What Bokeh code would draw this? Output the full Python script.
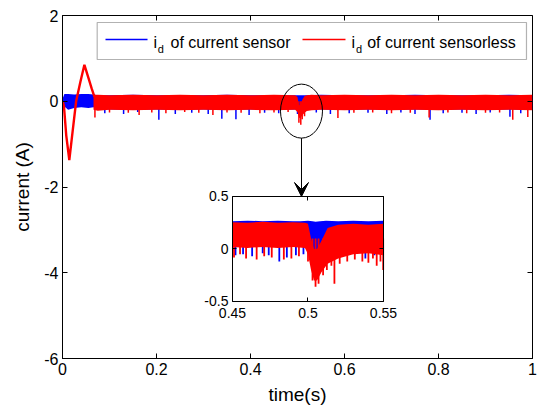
from bokeh.plotting import figure
from bokeh.models import (Range1d, LinearAxis, FixedTicker, BoxAnnotation, Label,
                          Arrow, VeeHead)
from bokeh.embed import file_html
from bokeh.resources import INLINE

# ---------------- data ----------------
# main axes ticks
x_ticks = [0, 0.2, 0.4, 0.6, 0.8, 1]
x_tick_labels = ["0", "0.2", "0.4", "0.6", "0.8", "1"]
y_ticks = [-6, -4, -2, 0, 2]
y_tick_labels = ["-6", "-4", "-2", "0", "2"]

# blue (current sensor) band, main view
t_blue = [0.0, 0.004, 0.012, 0.025, 0.04, 0.055, 0.066, 0.075, 0.1, 0.15, 0.2, 0.25, 0.3,
          0.35, 0.4, 0.45, 0.495, 0.5, 0.503, 0.506, 0.51, 0.515, 0.52, 0.55, 0.6, 0.65,
          0.7, 0.75, 0.8, 0.85, 0.9, 0.95, 1.0]
blue_hi = [0.05, 0.17, 0.17, 0.16, 0.17, 0.17, 0.16, 0.14, 0.14, 0.15, 0.14, 0.14,
           0.14, 0.15, 0.14, 0.14, 0.14, 0.14, 0.14, 0.14, 0.14, 0.14, 0.14, 0.15,
           0.14, 0.14, 0.14, 0.15, 0.14, 0.14, 0.14, 0.15, 0.14]
blue_lo = [-0.05, -0.12, -0.2, -0.16, -0.14, -0.16, -0.14, -0.2, -0.19, -0.2, -0.19, -0.2,
           -0.19, -0.2, -0.19, -0.2, -0.19, -0.2, -0.25, -0.2, -0.2, -0.19, -0.2, -0.19,
           -0.2, -0.19, -0.2, -0.19, -0.2, -0.19, -0.2, -0.19, -0.2]

# red (sensorless) start-up transient
t_red_tr = [0.0, 0.003, 0.008, 0.0145, 0.02, 0.029, 0.038, 0.0466, 0.055, 0.062, 0.068]
red_tr = [0.0, -0.1, -0.8, -1.37, -0.85, 0.0, 0.45, 0.85, 0.55, 0.3, 0.1]

# red band, main view
t_red = [0.066, 0.075, 0.1, 0.15, 0.2, 0.25, 0.3, 0.35, 0.4, 0.45, 0.495, 0.5, 0.503,
         0.506, 0.51, 0.515, 0.52, 0.53, 0.55, 0.6, 0.65, 0.7, 0.75, 0.8, 0.85, 0.9, 0.95, 1.0]
red_hi = [0.15, 0.15, 0.14, 0.15, 0.14, 0.15, 0.14, 0.15, 0.14, 0.15, 0.14, 0.1, -0.1,
          -0.08, 0.03, 0.12, 0.14, 0.15, 0.14, 0.15, 0.14, 0.15, 0.14, 0.15, 0.14, 0.15,
          0.14, 0.15]
red_lo = [-0.2, -0.22, -0.2, -0.21, -0.2, -0.21, -0.2, -0.21, -0.2, -0.21, -0.2, -0.25,
          -0.38, -0.4, -0.33, -0.27, -0.23, -0.21, -0.2, -0.21, -0.2, -0.21, -0.2, -0.21,
          -0.2, -0.21, -0.2, -0.21]

# downward spikes, main view
blue_spike_t = [0.09, 0.13, 0.16, 0.205, 0.24, 0.275, 0.31, 0.339, 0.369, 0.397, 0.43,
                0.46, 0.5, 0.54, 0.57, 0.61, 0.65, 0.69, 0.72, 0.75, 0.782, 0.81, 0.85,
                0.88, 0.91, 0.952, 0.975]
blue_spike_v = [-0.28, -0.3, -0.25, -0.43, -0.3, -0.27, -0.3, -0.41, -0.42, -0.32, -0.27,
                -0.28, -0.3, -0.26, -0.3, -0.28, -0.27, -0.3, -0.26, -0.3, -0.43, -0.28,
                -0.27, -0.3, -0.26, -0.36, -0.28]
red_spike_t = [0.069, 0.1, 0.14, 0.163, 0.19, 0.22, 0.26, 0.29, 0.32, 0.35, 0.38, 0.42,
               0.45, 0.48, 0.503, 0.507, 0.51, 0.515, 0.586, 0.62, 0.66, 0.7, 0.74, 0.78,
               0.82, 0.86, 0.9, 0.93, 0.958, 0.99]
red_spike_v = [-0.38, -0.26, -0.27, -0.32, -0.26, -0.28, -0.25, -0.27, -0.32, -0.26, -0.27,
               -0.28, -0.26, -0.25, -0.5, -0.55, -0.42, -0.35, -0.39, -0.27, -0.26, -0.28,
               -0.27, -0.38, -0.26, -0.28, -0.27, -0.26, -0.43, -0.37]

# inset (0.45 s .. 0.55 s)
inset_x_ticks = [0.45, 0.5, 0.55]
inset_x_tick_labels = ["0.45", "0.5", "0.55"]
inset_y_ticks = [-0.5, 0, 0.5]
inset_y_tick_labels = ["-0.5", "0", "0.5"]

in_t_blue = [0.45, 0.46, 0.47, 0.48, 0.49, 0.495, 0.5, 0.503, 0.505, 0.508, 0.512, 0.52,
             0.53, 0.54, 0.55]
in_blue_hi = [0.265, 0.27, 0.265, 0.27, 0.265, 0.265, 0.27, 0.265, 0.26, 0.265, 0.27,
              0.265, 0.27, 0.265, 0.27]
in_blue_lo = [0.03, 0.03, 0.02, 0.03, 0.03, 0.03, 0.02, 0.0, -0.03, 0.0, 0.03, 0.03,
              0.03, 0.03, 0.03]
in_t_red = [0.45, 0.46, 0.47, 0.48, 0.49, 0.498, 0.5, 0.502, 0.504, 0.506, 0.509, 0.513,
            0.52, 0.53, 0.54, 0.55]
in_red_hi = [0.255, 0.25, 0.26, 0.25, 0.255, 0.25, 0.24, 0.1, 0.0, 0.0, 0.08, 0.2, 0.23,
             0.24, 0.23, 0.24]
in_red_lo = [0.02, 0.01, 0.02, 0.01, 0.02, 0.01, -0.05, -0.2, -0.3, -0.3, -0.22, -0.14,
             -0.09, -0.05, -0.04, -0.06]
in_blue_spike_t = [0.452, 0.457, 0.463, 0.47, 0.474, 0.481, 0.486, 0.492, 0.497, 0.506,
                   0.516, 0.523, 0.531, 0.538, 0.544, 0.549]
in_blue_spike_v = [-0.06, -0.05, -0.07, -0.04, -0.06, -0.12, -0.08, -0.06, -0.05, -0.08,
                   -0.05, -0.07, -0.05, -0.09, -0.06, -0.04]
in_red_spike_t = [0.451, 0.455, 0.459, 0.466, 0.471, 0.476, 0.484, 0.489, 0.494, 0.5,
                  0.503, 0.505, 0.507, 0.51, 0.5125, 0.5155, 0.5175, 0.521, 0.526, 0.531,
                  0.536, 0.54, 0.543, 0.5455, 0.548, 0.5498]
in_red_spike_v = [-0.08, -0.05, -0.09, -0.1, -0.07, -0.08, -0.1, -0.09, -0.07, -0.12,
                  -0.3, -0.36, -0.33, -0.25, -0.2, -0.16, -0.33, -0.14, -0.12, -0.1, -0.12,
                  -0.13, -0.09, -0.16, -0.12, -0.2]

legend_labels = ["of current sensor", "of current sensorless"]
x_label = "time(s)"
y_label = "current (A)"

BLUE = "#0000ff"
RED = "#ff0000"
FONT = "Liberation Sans"

# ---------------- figure ----------------
p = figure(width=540, height=407, x_range=Range1d(0, 1), y_range=Range1d(-6, 2),
           output_backend="svg", toolbar_location=None,
           min_border_left=62, min_border_right=8, min_border_top=15, min_border_bottom=49)
p.background_fill_color = "white"
p.border_fill_color = "white"
p.outline_line_color = "black"
p.outline_line_width = 1
p.grid.visible = False

def style_axis(ax, ticks, labels, size="16px", show_labels=True):
    ax.ticker = FixedTicker(ticks=ticks)
    if show_labels:
        ax.major_label_overrides = {t: l for t, l in zip(ticks, labels)}
    else:
        ax.major_label_overrides = {t: "" for t in ticks}
    ax.major_tick_in = 5
    ax.major_tick_out = 0
    ax.minor_tick_line_color = None
    ax.axis_line_color = "black"
    ax.major_tick_line_color = "black"
    ax.major_label_text_font = FONT
    ax.major_label_text_font_size = size
    ax.major_label_text_color = "black"
    ax.major_label_standoff = 4

xa = p.xaxis[0]
ya = p.yaxis[0]
style_axis(xa, x_ticks, x_tick_labels)
style_axis(ya, y_ticks, y_tick_labels)
xa.axis_label = x_label
ya.axis_label = y_label
for ax in (xa, ya):
    ax.axis_label_text_font = FONT
    ax.axis_label_text_font_size = "19px"
    ax.axis_label_text_font_style = "normal"
    ax.axis_label_text_color = "black"
xa.axis_label_standoff = 6
ya.axis_label_standoff = 8

top_ax = LinearAxis(fixed_location=2)
style_axis(top_ax, x_ticks, x_tick_labels, show_labels=False)
p.add_layout(top_ax, "above")
right_ax = LinearAxis(fixed_location=1)
style_axis(right_ax, y_ticks, y_tick_labels, show_labels=False)
p.add_layout(right_ax, "right")

# ---------------- main traces ----------------
p.varea(x=t_blue, y1=blue_lo, y2=blue_hi, fill_color=BLUE)
p.segment(x0=blue_spike_t, y0=[0.0] * len(blue_spike_t), x1=blue_spike_t, y1=blue_spike_v,
          line_color=BLUE, line_width=1.5)
p.varea(x=t_red, y1=red_lo, y2=red_hi, fill_color=RED)
p.line(x=t_red_tr, y=red_tr, line_color=RED, line_width=2.4)
p.segment(x0=red_spike_t, y0=[0.0] * len(red_spike_t), x1=red_spike_t, y1=red_spike_v,
          line_color=RED, line_width=1.5)

# ellipse + arrow marking the zoomed region
p.ellipse(x=[0.5085], y=[-0.23], width=42, height=54, width_units="screen",
          height_units="screen", fill_alpha=0, line_color="black", line_width=1)
p.add_layout(Arrow(x_start=0.5085, y_start=-0.86, x_end=0.5085, y_end=-2.222,
                   line_color="black", line_width=1,
                   end=VeeHead(size=14, fill_color="black", line_color="black")))

# ---------------- legend ----------------
p.add_layout(BoxAnnotation(left=0.0738, right=0.9872, top=1.837, bottom=0.974,
                           fill_color=None, line_color="black", line_width=1.2))
p.line(x=[0.0915, 0.1809], y=[1.44, 1.44], line_color=BLUE, line_width=1.4)
p.line(x=[0.5106, 0.6021], y=[1.44, 1.44], line_color=RED, line_width=1.4)
for xi, xd, xt, txt in [(0.1936, 0.2028, 0.2298, legend_labels[0]),
                        (0.6149, 0.6245, 0.6483, legend_labels[1])]:
    p.add_layout(Label(x=xi, y=1.37, text="i", text_font=FONT, text_font_size="16px",
                       text_baseline="alphabetic", text_color="black"))
    p.add_layout(Label(x=xd, y=1.22, text="d", text_font=FONT, text_font_size="11px",
                       text_baseline="alphabetic", text_color="black"))
    p.add_layout(Label(x=xt, y=1.37, text=txt, text_font=FONT, text_font_size="16px",
                       text_baseline="alphabetic", text_color="black"))

# ---------------- inset (own ranges, placed in lower middle of frame) ----------------
p.extra_x_ranges = {"ix": Range1d(0.33742, 0.64868)}
p.extra_y_ranges = {"iy": Range1d(-1.0429, 2.2238)}

p.quad(left=[0.45], right=[0.55], bottom=[-0.5], top=[0.5], x_range_name="ix",
       y_range_name="iy", fill_color="white", line_color=None)
p.varea(x=in_t_blue, y1=in_blue_lo, y2=in_blue_hi, fill_color=BLUE,
        x_range_name="ix", y_range_name="iy")
p.segment(x0=in_blue_spike_t, y0=[0.1] * len(in_blue_spike_t), x1=in_blue_spike_t,
          y1=in_blue_spike_v, line_color=BLUE, line_width=1.8,
          x_range_name="ix", y_range_name="iy")
p.varea(x=in_t_red, y1=in_red_lo, y2=in_red_hi, fill_color=RED,
        x_range_name="ix", y_range_name="iy")
p.segment(x0=in_red_spike_t, y0=[0.1] * len(in_red_spike_t), x1=in_red_spike_t,
          y1=in_red_spike_v, line_color=RED, line_width=1.8,
          x_range_name="ix", y_range_name="iy")

def inset_axis(loc, ticks, labels, show):
    ax = LinearAxis(x_range_name="ix", y_range_name="iy", fixed_location=loc,
                    bounds=(min(ticks), max(ticks)))
    style_axis(ax, ticks, labels, size="14px", show_labels=show)
    ax.major_tick_in = 4
    return ax

inx = inset_axis(-0.5, inset_x_ticks, inset_x_tick_labels, True)
inx.major_label_standoff = 7
p.add_layout(inx, "below")
p.add_layout(inset_axis(0.45, inset_y_ticks, inset_y_tick_labels, True), "left")
p.add_layout(inset_axis(0.5, inset_x_ticks, inset_x_tick_labels, False), "above")
p.add_layout(inset_axis(0.55, inset_y_ticks, inset_y_tick_labels, False), "right")

open("out.html", "w").write(file_html(p, INLINE))
